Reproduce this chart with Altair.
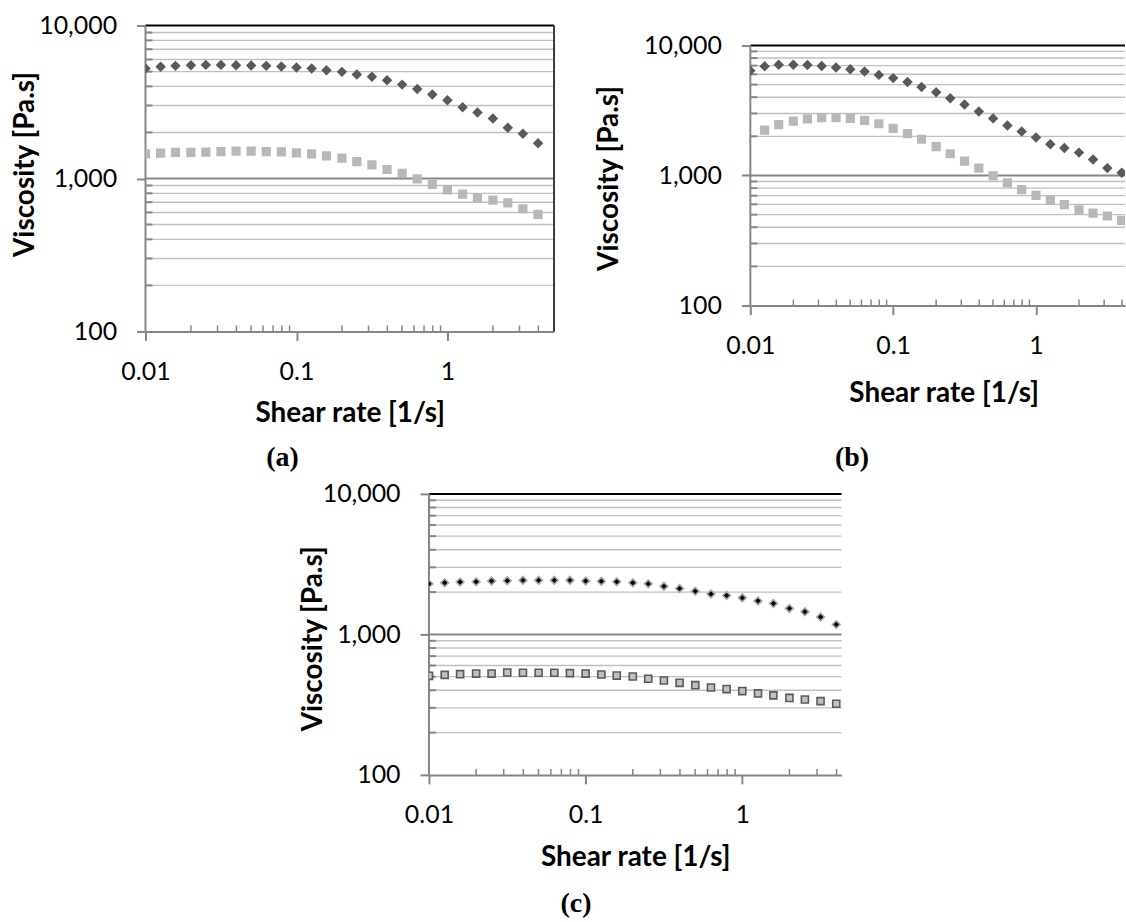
import altair as alt
import pandas as pd

# ---------------- data ----------------
shear = [0.01, 0.0126, 0.0158, 0.02, 0.0251, 0.0316, 0.0398, 0.0501, 0.0631, 0.0794,
         0.1, 0.126, 0.158, 0.2, 0.251, 0.316, 0.398, 0.501, 0.631, 0.794,
         1.0, 1.26, 1.58, 2.0, 2.51, 3.16, 3.98]

a_diamond = [5240, 5370, 5450, 5500, 5530, 5530, 5500, 5480, 5450, 5400, 5310, 5240, 5100, 4980,
             4790, 4620, 4390, 4110, 3850, 3540, 3250, 2920, 2700, 2470, 2150, 1960, 1700]
a_square = [1450, 1465, 1480, 1480, 1486, 1500, 1510, 1510, 1500, 1494, 1471, 1450, 1406, 1358,
            1291, 1228, 1145, 1079, 995, 914, 843, 791, 748, 722, 693, 634, 582]

b_diamond = [6380, 6920, 7120, 7120, 7080, 6960, 6760, 6560, 6300, 5940, 5610, 5230, 4790, 4360,
             3930, 3510, 3110, 2750, 2420, 2180, 1960, 1740, 1630, 1500, 1330, 1140, 1050]
b_square_x = shear[1:]
b_square = [2230, 2460, 2620, 2730, 2780, 2780, 2750, 2650, 2500, 2300, 2100, 1900, 1670,
            1470, 1290, 1140, 995, 879, 778, 704, 645, 598, 545, 514, 488, 452]

c_diamond = [2290, 2330, 2360, 2370, 2400, 2410, 2425, 2425, 2425, 2425, 2400, 2390, 2370, 2330,
             2290, 2200, 2120, 2030, 1940, 1890, 1820, 1730, 1660, 1530, 1450, 1330, 1176]
c_square = [507, 515, 521, 526, 526, 535, 533, 533, 533, 530, 526, 518, 509, 501,
            483, 470, 452, 435, 419, 408, 395, 380, 368, 353, 344, 335, 321]

x_major = [0.01, 0.1, 1]
y_major = [100, 1000, 10000]
x_minor = [0.02, 0.03, 0.04, 0.05, 0.06, 0.07, 0.08, 0.09,
           0.2, 0.3, 0.4, 0.5, 0.6, 0.7, 0.8, 0.9, 2, 3, 4]
y_minor = [200, 300, 400, 500, 600, 700, 800, 900,
           2000, 3000, 4000, 5000, 6000, 7000, 8000, 9000]
y_mid = [1000]
y_top = [10000]
x_max = {"a": 5.08, "b": 4.2, "c": 4.3}
# panel (b) sits lower than (a) in the figure: its scale keeps empty room above 10,000
y_max = {"a": 10000, "b": 14230, "c": 10000}

AX_GRAY = "#868686"


def panel(key, dx, dy, sx, sy, W, H, dmark, smark, ytx, yty, xtx, xty, border=False):
    xs = alt.Scale(type="log", domain=[0.01, x_max[key]], nice=False)
    ys = alt.Scale(type="log", domain=[100, y_max[key]], nice=False)
    xaxis = alt.Axis(values=x_major, format="~g", title="Shear rate [1/s]",
                     titleX=xtx, titleY=xty, titleBaseline="middle", labelFlush=False)
    yaxis = alt.Axis(values=y_major, format=",d", title="Viscosity [Pa.s]", domain=False,
                     titleX=ytx, titleY=yty, titleBaseline="middle")

    def X(f):
        return alt.X(f, scale=xs, axis=xaxis)

    def Y(f):
        return alt.Y(f, scale=ys, axis=yaxis)

    g_minor = alt.Chart(pd.DataFrame({"v": y_minor})).mark_rule(
        color="#c0c0c0", strokeWidth=1.4).encode(y=Y("v:Q"))
    g_mid = alt.Chart(pd.DataFrame({"v": y_mid})).mark_rule(
        color=AX_GRAY, strokeWidth=2).encode(y=Y("v:Q"))
    g_top = alt.Chart(pd.DataFrame({"v": y_top})).mark_rule(
        color="black", strokeWidth=2).encode(y=Y("v:Q"))
    y_line = alt.Chart(pd.DataFrame({"x": [x_major[0]], "y": [y_major[0]], "y2": [y_major[-1]]})
                       ).mark_rule(color=AX_GRAY, strokeWidth=2).encode(
        x=X("x:Q"), y=Y("y:Q"), y2="y2:Q")
    yt_minor = alt.Chart(pd.DataFrame({"v": y_minor})).mark_rule(
        color=AX_GRAY, strokeWidth=2).encode(y=Y("v:Q"), x=alt.value(0), x2=alt.value(7))
    xm = [v for v in x_minor if v < x_max[key]]
    xt_minor = alt.Chart(pd.DataFrame({"u": xm})).mark_rule(
        color=AX_GRAY, strokeWidth=1.5).encode(
        x=X("u:Q"), y=alt.value(H - 6), y2=alt.value(H))

    d = alt.Chart(pd.DataFrame({"x": dx, "y": dy})).mark_point(**dmark).encode(
        x=X("x:Q"), y=Y("y:Q"))
    s = alt.Chart(pd.DataFrame({"x": sx, "y": sy})).mark_point(**smark).encode(
        x=X("x:Q"), y=Y("y:Q"))

    layers = [g_minor, g_mid, g_top, y_line, yt_minor, xt_minor]
    if border:
        layers.append(alt.Chart(pd.DataFrame({"u": [x_max[key]]})).mark_rule(
            color="#3a3a3a", strokeWidth=2).encode(x=X("u:Q")))
    layers += [s, d]
    return alt.layer(*layers).properties(width=W, height=H)


dm_ab = dict(shape="diamond", filled=True, size=110, color="#595959", opacity=1, clip=True)
sm_ab = dict(shape="square", filled=True, size=85, color="#b8b8b8", opacity=1, clip=True)
dm_c = dict(shape="diamond", filled=True, size=60, fill="black", stroke="#a8a8a8",
            strokeWidth=1.6, opacity=1, clip=True)
sm_c = dict(shape="square", filled=True, size=50, fill="#c0c0c0", stroke="#5a5a5a",
            strokeWidth=1.6, opacity=1, clip=True)

pa = panel("a", shear, a_diamond, shear, a_square, 410, 307, dm_ab, sm_ab,
           -120, 139, 205, 82, border=True)
pb = panel("b", shear, b_diamond, b_square_x, b_square, 376, 281, dm_ab, sm_ab,
           -141, 153, 194, 88)
pc = panel("c", shear, c_diamond, shear, c_square, 414, 282, dm_c, sm_c,
           -116, 145, 207, 83)


def cap(text, offset, dx):
    return alt.TitleParams(text, orient="bottom", anchor="middle", font="Liberation Serif",
                           fontSize=28, fontWeight="bold", color="black", offset=offset, dx=dx)


wa = alt.VConcatChart(vconcat=[pa], title=cap("(a)", 17, -1))
wb = alt.VConcatChart(vconcat=[pb], title=cap("(b)", 37, -9))
wc = alt.VConcatChart(vconcat=[pc], title=cap("(c)", 19, 5))

row = alt.hconcat(wa, wb, spacing=40)
chart = alt.vconcat(row, wc, spacing=10, center=True).properties(
    padding={"left": 12, "top": 12, "right": 0, "bottom": 0}
).configure_view(stroke=None).configure_axis(
    domainColor=AX_GRAY, domainWidth=2, tickColor=AX_GRAY, tickWidth=2, tickSize=9,
    labelFont="Lato", labelFontSize=25, labelColor="black",
    titleFont="Lato", titleFontSize=28, titleFontWeight="bold", titleColor="black",
    grid=False
).configure_axisX(labelPadding=19).configure_axisY(labelPadding=20)

chart.save("out.html", embed_options={"renderer": "svg", "actions": False})
